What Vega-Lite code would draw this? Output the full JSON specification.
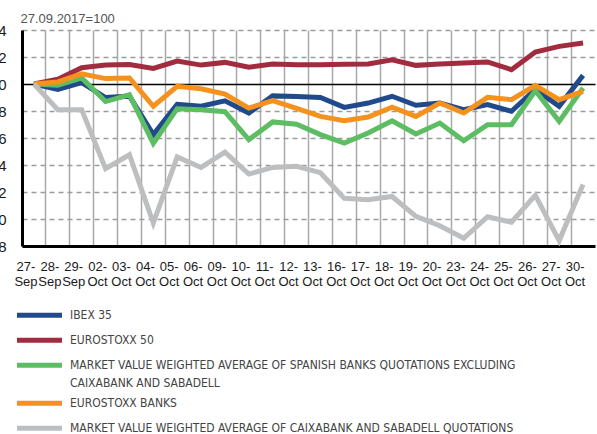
{
  "$schema": "https://vega.github.io/schema/vega-lite/v6.json",
  "autosize": {"type": "none"},
  "width": 573,
  "height": 216,
  "padding": {"left": 22, "top": 30, "right": 2, "bottom": 188},
  "background": "white",
  "config": {
    "view": {"stroke": null},
    "font": "Liberation Sans",
    "style": {"guide-label": {"lineHeight": 18}}
  },
  "datasets": {
    "series": [
      {"key": "ibex", "name": "IBEX 35"},
      {"key": "es50", "name": "EUROSTOXX 50"},
      {"key": "spb", "name": "MARKET VALUE WEIGHTED AVERAGE OF SPANISH BANKS QUOTATIONS EXCLUDING CAIXABANK AND SABADELL"},
      {"key": "esb", "name": "EUROSTOXX BANKS"},
      {"key": "cs", "name": "MARKET VALUE WEIGHTED AVERAGE OF CAIXABANK AND SABADELL QUOTATIONS"}
    ]
  },
  "data": {"values": [
    {"date": "27-Sep", "ibex": 100, "es50": 100, "spb": 100, "esb": 100, "cs": 100},
    {"date": "28-Sep", "ibex": 99.6, "es50": 100.35, "spb": 99.9, "esb": 100.15, "cs": 98.1},
    {"date": "29-Sep", "ibex": 100.1, "es50": 101.2, "spb": 100.45, "esb": 100.75, "cs": 98.1},
    {"date": "02-Oct", "ibex": 99.0, "es50": 101.4, "spb": 98.7, "esb": 100.4, "cs": 93.73},
    {"date": "03-Oct", "ibex": 99.1, "es50": 101.45, "spb": 99.2, "esb": 100.45, "cs": 94.76},
    {"date": "04-Oct", "ibex": 96.25, "es50": 101.15, "spb": 95.6, "esb": 98.35, "cs": 89.7},
    {"date": "05-Oct", "ibex": 98.5, "es50": 101.7, "spb": 98.17, "esb": 99.83, "cs": 94.6},
    {"date": "06-Oct", "ibex": 98.35, "es50": 101.4, "spb": 98.1, "esb": 99.65, "cs": 93.82},
    {"date": "09-Oct", "ibex": 98.75, "es50": 101.6, "spb": 97.95, "esb": 99.26, "cs": 94.96},
    {"date": "10-Oct", "ibex": 97.85, "es50": 101.25, "spb": 95.88, "esb": 98.22, "cs": 93.33},
    {"date": "11-Oct", "ibex": 99.12, "es50": 101.48, "spb": 97.19, "esb": 98.77, "cs": 93.82},
    {"date": "12-Oct", "ibex": 99.08, "es50": 101.43, "spb": 97.02, "esb": 98.2, "cs": 93.9},
    {"date": "13-Oct", "ibex": 99.0, "es50": 101.43, "spb": 96.25, "esb": 97.6, "cs": 93.43},
    {"date": "16-Oct", "ibex": 98.27, "es50": 101.47, "spb": 95.63, "esb": 97.28, "cs": 91.53},
    {"date": "17-Oct", "ibex": 98.59, "es50": 101.48, "spb": 96.37, "esb": 97.55, "cs": 91.43},
    {"date": "18-Oct", "ibex": 99.09, "es50": 101.8, "spb": 97.28, "esb": 98.28, "cs": 91.67},
    {"date": "19-Oct", "ibex": 98.42, "es50": 101.38, "spb": 96.3, "esb": 97.6, "cs": 90.2},
    {"date": "20-Oct", "ibex": 98.59, "es50": 101.48, "spb": 97.11, "esb": 98.59, "cs": 89.5},
    {"date": "23-Oct", "ibex": 98.1, "es50": 101.56, "spb": 95.8, "esb": 97.85, "cs": 88.57},
    {"date": "24-Oct", "ibex": 98.47, "es50": 101.63, "spb": 96.99, "esb": 99.01, "cs": 90.17},
    {"date": "25-Oct", "ibex": 97.98, "es50": 101.06, "spb": 96.99, "esb": 98.84, "cs": 89.76},
    {"date": "26-Oct", "ibex": 99.6, "es50": 102.37, "spb": 99.5, "esb": 99.9, "cs": 91.75},
    {"date": "27-Oct", "ibex": 98.35, "es50": 102.79, "spb": 97.23, "esb": 98.84, "cs": 88.4},
    {"date": "30-Oct", "ibex": 100.64, "es50": 103.04, "spb": 99.7, "esb": 99.46, "cs": 92.56}
  ]},
  "transform": [
    {"fold": ["ibex", "es50", "spb", "esb", "cs"], "as": ["key", "value"]},
    {"lookup": "key", "from": {"data": {"name": "series"}, "key": "key", "fields": ["name"]}}
  ],
  "mark": {"type": "line", "strokeWidth": 5, "strokeJoin": "miter", "strokeCap": "butt"},
  "encoding": {
    "x": {
      "field": "date", "type": "ordinal", "sort": null,
      "scale": {"type": "band", "paddingInner": 0, "paddingOuter": 0},
      "axis": {
        "title": null,
        "domain": true, "domainColor": "#000000", "domainWidth": 3,
        "ticks": false, "tickSize": 0,
        "grid": true, "gridColor": "#a8a8a8", "gridWidth": 1.5,
        "bandPosition": 0,
        "labelAngle": 0, "labelFontSize": 13, "labelColor": "#1a1a1a",
        "labelBaseline": "top", "labelLineHeight": 15, "labelPadding": 14,
        "labelOffset": -8, "labelOverlap": false, "labelBound": false, "labelFlush": false,
        "labelExpr": "[slice(datum.label, 0, 3), slice(datum.label, 3)]"
      }
    },
    "y": {
      "field": "value", "type": "quantitative",
      "scale": {"domain": [88, 104], "nice": false, "zero": false},
      "axis": {
        "values": [88, 90, 92, 94, 96, 98, 100, 102, 104],
        "title": "27.09.2017=100",
        "titleAngle": 0, "titleX": -2, "titleY": -8,
        "titleAlign": "left", "titleBaseline": "alphabetic",
        "titleFontWeight": "normal", "titleFontSize": 13, "titleColor": "#555555",
        "domain": true, "domainColor": "#000000", "domainWidth": 3,
        "ticks": false, "tickSize": 0,
        "grid": true,
        "gridColor": {"condition": {"test": "datum.value === 100", "value": "#000000"}, "value": "#9c9c9c"},
        "gridDash": {"condition": {"test": "datum.value === 100", "value": []}, "value": [5, 4]},
        "gridWidth": 1.5,
        "labelFontSize": 15, "labelColor": "#1a1a1a", "labelPadding": 16,
        "labelOverlap": false, "labelBound": false, "labelFlush": false
      }
    },
    "color": {
      "field": "name", "type": "nominal",
      "scale": {
        "domain": [
          "IBEX 35",
          "EUROSTOXX 50",
          "MARKET VALUE WEIGHTED AVERAGE OF SPANISH BANKS QUOTATIONS EXCLUDING CAIXABANK AND SABADELL",
          "EUROSTOXX BANKS",
          "MARKET VALUE WEIGHTED AVERAGE OF CAIXABANK AND SABADELL QUOTATIONS"
        ],
        "range": ["#214a8c", "#a22c3f", "#5dbd63", "#f5921e", "#bdbec0"]
      },
      "legend": {
        "title": null,
        "orient": "none", "legendX": 11.5, "legendY": 274,
        "padding": 0,
        "symbolType": "M-22.5,5.2H22.5", "symbolSize": 4, "symbolStrokeWidth": 5,
        "labelOffset": 24.5, "labelFont": "DejaVu Sans Condensed, Liberation Sans", "labelFontSize": 12,
        "labelColor": "#444444", "labelLimit": 600, "labelBaseline": "top",
        "rowPadding": 3,
        "labelExpr": "datum.label == 'MARKET VALUE WEIGHTED AVERAGE OF SPANISH BANKS QUOTATIONS EXCLUDING CAIXABANK AND SABADELL' ? ['MARKET VALUE WEIGHTED AVERAGE OF SPANISH BANKS QUOTATIONS EXCLUDING', 'CAIXABANK AND SABADELL'] : datum.label"
      }
    }
  }
}
